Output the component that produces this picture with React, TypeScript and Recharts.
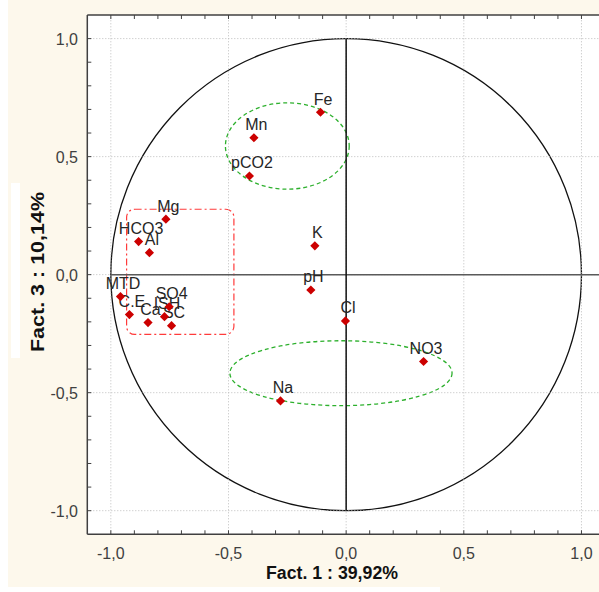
import React from 'react';
import { ScatterChart, Scatter, XAxis, YAxis, CartesianGrid, ReferenceLine, ReferenceArea } from 'recharts';

// Variable loadings on the factorial plane (Fact. 1 x Fact. 3)
const variableNames = ['Fe', 'Mn', 'pCO2', 'Mg', 'HCO3', 'Al', 'K', 'MTD', 'pH', 'SO4', 'C.E', 'ISH', 'Cl', 'Ca', 'SC', 'NO3', 'Na'];
const fact1Values = [-0.109, -0.392, -0.411, -0.766, -0.882, -0.836, -0.133, -0.959, -0.15, -0.752, -0.921, -0.772, -0.003, -0.842, -0.742, 0.329, -0.279];
const fact3Values = [0.688, 0.58, 0.418, 0.235, 0.14, 0.093, 0.122, -0.093, -0.065, -0.136, -0.169, -0.178, -0.196, -0.203, -0.216, -0.368, -0.535];

const axisTicks = [-1.0, -0.9, -0.8, -0.7, -0.6, -0.5, -0.4, -0.3, -0.2, -0.1, 0.0, 0.1, 0.2, 0.3, 0.4, 0.5, 0.6, 0.7, 0.8, 0.9, 1.0];
const majorTicks = [-1.0, -0.5, 0.0, 0.5, 1.0];

// groupings drawn on the plot
const upperGroupX = [-0.513, 0.013];
const upperGroupY = [0.362, 0.728];
const lowerGroupX = [-0.494, 0.45];
const lowerGroupY = [-0.555, -0.28];
const leftGroupX = [-0.933, -0.477];
const leftGroupY = [-0.253, 0.277];

const xTitle = 'Fact. 1  : 39,92%';
const yTitle = 'Fact. 3  : 10,14%';

const data = variableNames.map((name, i) => ({ name, x: fact1Values[i], y: fact3Values[i] }));

const FONT = '"Liberation Sans", Arial, sans-serif';
const isMajor = (v: number) => Math.abs(v * 2 - Math.round(v * 2)) < 1e-6;
const fmt = (v: number) => (Math.abs(v) < 1e-9 ? 0 : v).toFixed(1).replace('.', ',');

const BottomTick = (p: any) => {
  const { x, y, payload } = p;
  const v = payload.value;
  return (
    <g>
      <line x1={x} x2={x} y1={y} y2={y - 4} stroke="#404040" strokeWidth={1} />
      {isMajor(v) && (
        <text x={x} y={y + 24.7} textAnchor="middle" fill="#404040" style={{ fontFamily: FONT, fontSize: 16 }}>
          {fmt(v)}
        </text>
      )}
    </g>
  );
};

const TopTick = (p: any) => {
  const { x, y } = p;
  return <line x1={x} x2={x} y1={y} y2={y + 4} stroke="#404040" strokeWidth={1} />;
};

const LeftTick = (p: any) => {
  const { x, y, payload } = p;
  const v = payload.value;
  return (
    <g>
      <line x1={x} x2={x + 4} y1={y} y2={y} stroke="#404040" strokeWidth={1} />
      {isMajor(v) && (
        <text x={x - 9.3} y={y + 6.3} textAnchor="end" fill="#404040" style={{ fontFamily: FONT, fontSize: 16 }}>
          {fmt(v)}
        </text>
      )}
    </g>
  );
};

const Diamond = (p: any) => {
  const { cx, cy } = p;
  const r = 4.6;
  return <polygon points={`${cx},${cy - r} ${cx + r},${cy} ${cx},${cy + r} ${cx - r},${cy}`} fill="#CC0000" />;
};

const NameLabel = (p: any) => {
  const { cx, cy, payload } = p;
  return (
    <text x={cx + 2.5} y={cy - 7.5} textAnchor="middle" fill="#262626" style={{ fontFamily: FONT, fontSize: 16 }}>
      {payload.name}
    </text>
  );
};

const EllipseShape = (color: string, dash: string) => (p: any) => {
  const { x, y, width, height } = p;
  return (
    <ellipse
      cx={x + width / 2}
      cy={y + height / 2}
      rx={Math.abs(width) / 2}
      ry={Math.abs(height) / 2}
      fill="none"
      stroke={color}
      strokeWidth={1.3}
      strokeDasharray={dash}
    />
  );
};

const RoundRectShape = (p: any) => {
  const { x, y, width, height } = p;
  return (
    <rect x={x} y={y} width={width} height={height} rx={8} ry={8} fill="none" stroke="#FF3B3B" strokeWidth={1.2} strokeDasharray="7 3 2 3" />
  );
};

export default function App() {
  return (
    <div style={{ position: 'absolute', left: 0, top: 0, width: 599, height: 592, overflow: 'hidden', background: '#ffffff' }}>
      <div style={{ position: 'absolute', left: 8, top: 0, width: 591, height: 592, background: '#FDF8EC' }} />
      <div style={{ position: 'absolute', left: 11, top: 183, width: 9, height: 175, background: '#ffffff' }} />
      <div style={{ position: 'absolute', left: 8, top: 587, width: 432, height: 5, background: '#ffffff' }} />
      <div style={{ position: 'absolute', left: 0, top: 0, width: 599, height: 592, overflow: 'hidden' }}>
        <ScatterChart width={606} height={592} margin={{ top: 0, right: 1, bottom: 0, left: 0 }}>
          <CartesianGrid horizontal={false} vertical={false} fill="#ffffff" />
          <XAxis
            type="number"
            dataKey="x"
            domain={[-1.1, 1.1]}
            allowDataOverflow
            ticks={axisTicks}
            interval={0}
            height={57.7}
            tickSize={0}
            tickMargin={0}
            tickLine={false}
            axisLine={{ stroke: '#404040', strokeWidth: 1.5 }}
            tick={(p: any) => <BottomTick {...p} />}
          />
          <XAxis
            xAxisId="top"
            orientation="top"
            type="number"
            dataKey="x"
            domain={[-1.1, 1.1]}
            allowDataOverflow
            ticks={axisTicks}
            interval={0}
            height={15}
            tickSize={0}
            tickMargin={0}
            tickLine={false}
            axisLine={{ stroke: '#404040', strokeWidth: 1.5 }}
            tick={(p: any) => <TopTick {...p} />}
          />
          <YAxis
            type="number"
            dataKey="y"
            domain={[-1.1, 1.1]}
            allowDataOverflow
            ticks={axisTicks}
            interval={0}
            width={87.3}
            tickSize={0}
            tickMargin={0}
            tickLine={false}
            axisLine={{ stroke: '#404040', strokeWidth: 1.5 }}
            tick={(p: any) => <LeftTick {...p} />}
          />
          {majorTicks.map((v) => (
            <ReferenceLine key={'gx' + v} x={v} stroke="#bdbdbd" strokeDasharray="1 2" strokeWidth={1} />
          ))}
          {majorTicks.map((v) => (
            <ReferenceLine key={'gy' + v} y={v} stroke="#bdbdbd" strokeDasharray="1 2" strokeWidth={1} />
          ))}
          <ReferenceLine segment={[{ x: -1, y: 0 }, { x: 1.1, y: 0 }]} stroke="#5a5a5a" strokeWidth={1.5} />
          <ReferenceLine segment={[{ x: 0, y: -1 }, { x: 0, y: 1 }]} stroke="#111111" strokeWidth={1.5} />
          <ReferenceArea x1={-1} x2={1} y1={-1} y2={1} shape={EllipseShape('#111111', '')} />
          <ReferenceArea x1={upperGroupX[0]} x2={upperGroupX[1]} y1={upperGroupY[0]} y2={upperGroupY[1]} shape={EllipseShape('#2DB02D', '4 3')} />
          <ReferenceArea x1={lowerGroupX[0]} x2={lowerGroupX[1]} y1={lowerGroupY[0]} y2={lowerGroupY[1]} shape={EllipseShape('#2DB02D', '4 3')} />
          <ReferenceArea x1={leftGroupX[0]} x2={leftGroupX[1]} y1={leftGroupY[0]} y2={leftGroupY[1]} shape={RoundRectShape} />
          <Scatter data={data} isAnimationActive={false} shape={(p: any) => <NameLabel {...p} />} />
          <Scatter data={data} isAnimationActive={false} shape={(p: any) => <Diamond {...p} />} />
        </ScatterChart>
      </div>
      <svg width={599} height={592} style={{ position: 'absolute', left: 0, top: 0, pointerEvents: 'none' }}>
        <text x={332} y={579} textAnchor="middle" fill="#111" textLength={132} lengthAdjust="spacingAndGlyphs" style={{ fontFamily: FONT, fontSize: 18, fontWeight: 'bold' }}>
          {xTitle}
        </text>
        <text
          x={0}
          y={0}
          transform="translate(44 272) rotate(-90)"
          textAnchor="middle"
          fill="#111"
          textLength={160}
          lengthAdjust="spacingAndGlyphs"
          style={{ fontFamily: FONT, fontSize: 18, fontWeight: 'bold' }}
        >
          {yTitle}
        </text>
      </svg>
    </div>
  );
}
